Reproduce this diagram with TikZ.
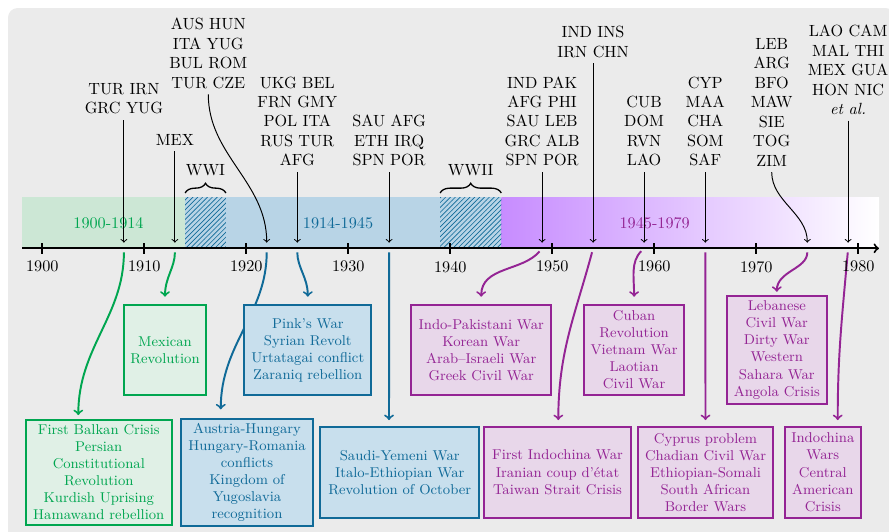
\documentclass[tikz,border=0pt]{standalone}
\usetikzlibrary{decorations.pathreplacing,patterns}
\pgfdeclarelayer{back}
\pgfdeclarelayer{mid}
\pgfsetlayers{back,mid,main}

\definecolor{bggray}{RGB}{235,235,235}
\definecolor{evgreen}{RGB}{0,166,80}
\definecolor{evblue}{RGB}{16,106,152}
\definecolor{evpurple}{RGB}{148,36,148}
\definecolor{bandgreen}{RGB}{204,231,213}
\definecolor{bandblue}{RGB}{184,212,230}
\definecolor{bandpurple}{RGB}{199,140,255}
\definecolor{fillgreen}{RGB}{224,240,230}
\definecolor{fillblue}{RGB}{200,223,237}
\definecolor{fillpurple}{RGB}{232,215,234}

\tikzset{
  toplabel/.style={align=center, inner sep=0pt, anchor=south},
  periodlabel/.style={inner sep=0pt},
  evbox/.style={draw, line width=1.2pt, align=center, inner sep=1.5pt,
    font=\fontsize{8.8}{10.5}\selectfont},
  gbox/.style={evbox, draw=evgreen, fill=fillgreen, text=evgreen},
  bbox/.style={evbox, draw=evblue, fill=fillblue, text=evblue},
  pbox/.style={evbox, draw=evpurple, fill=fillpurple, text=evpurple},
  evarrow/.style={-to, semithick, shorten <=3.5pt, shorten >=3.5pt},
  colarrow/.style={-to, line width=1.2pt, shorten <=2.5pt},
  garrow/.style={colarrow, evgreen},
  barrow/.style={colarrow, evblue},
  parrow/.style={colarrow, evpurple},
  warbrace/.style={decorate, decoration={brace, amplitude=6pt}, line width=0.8pt},
}

\begin{document}
\begin{tikzpicture}[x=0.6173pt, y=-0.6173pt]
\useasboundingbox (0,0) rectangle (889,531);

% backdrop, period bands and war hatching
\begin{pgfonlayer}{back}
  \fill[bggray, rounded corners=6pt] (8,8) rectangle (895,545);
  \fill[bandgreen] (22,197.3) rectangle (185.1,248.3);
  \fill[bandblue] (185.1,197.3) rectangle (501.3,248.3);
  \shade[left color=bandpurple, right color=white] (501.3,197.3) rectangle (879,248.3);
  \fill[pattern=north east lines, pattern color=evblue] (185.1,197.3) rectangle (225.9,248.3);
  \fill[pattern=north east lines, pattern color=evblue] (440.1,197.3) rectangle (501.3,248.3);
\end{pgfonlayer}

% period names
\node[periodlabel, text=evgreen] (p1) at (108.5,223.3) {1900-1914};
\node[periodlabel, text=evblue] (p2) at (338,223.3) {1914-1945};
\node[periodlabel, text=evpurple] (p3) at (654.7,223.3) {1945-1979};

% time axis
\coordinate (axL) at (22,248.3);
\coordinate (axR) at (879,248.3);
\draw[line width=1.2pt, -to] (axL) -- (axR);
\foreach \yr in {1900,1910,...,1980}{
  \pgfmathsetmacro{\xx}{42.3+10.2*(\yr-1900)}
  \draw[line width=1.2pt] (\xx,243) -- (\xx,253.5);
  \node (t\yr) at (\xx,266.7) {\yr};
}

% event years on the axis
\coordinate (y1908) at (123.9,248.3);
\coordinate (y1913) at (174.9,248.3);
\coordinate (y1922) at (266.7,248.3);
\coordinate (y1925) at (297.3,248.3);
\coordinate (y1934) at (389.1,248.3);
\coordinate (y1949) at (542.1,248.3);
\coordinate (y1954) at (593.1,248.3);
\coordinate (y1959) at (644.1,248.3);
\coordinate (y1965) at (705.3,248.3);
\coordinate (y1975) at (807.3,248.3);
\coordinate (y1979) at (848.1,248.3);

% world wars
\coordinate (wwiA) at (185.1,193);
\coordinate (wwiB) at (225.9,193);
\coordinate (wwiiA) at (440.1,193);
\coordinate (wwiiB) at (501.3,193);
\draw[warbrace] (wwiA) -- (wwiB);
\draw[warbrace] (wwiiA) -- (wwiiB);
\node (wwi) at (205.5,170) {WWI};
\node (wwii) at (470.7,170) {WWII};

% countries involved
\node[toplabel] (l1908) at (123.9,114.5) {TUR IRN\\GRC YUG};
\node[toplabel] (l1913) at (174.9,145.5) {MEX};
\node[toplabel] (l1922) at (208.3,88.8) {AUS HUN\\ITA YUG\\BUL ROM\\TUR CZE};
\node[toplabel] (l1925) at (297.3,166.5) {UKG BEL\\FRN GMY\\POL ITA\\RUS TUR\\AFG};
\node[toplabel] (l1934) at (389.1,166.5) {SAU AFG\\ETH IRQ\\SPN POR};
\node[toplabel] (l1949) at (542.1,166.5) {IND PAK\\AFG PHI\\SAU LEB\\GRC ALB\\SPN POR};
\node[toplabel] (l1954) at (593.1,57.8) {IND INS\\IRN CHN};
\node[toplabel] (l1959) at (644.1,166.5) {CUB\\DOM\\RVN\\LAO};
\node[toplabel] (l1965) at (705.3,166.5) {CYP\\MAA\\CHA\\SOM\\SAF};
\node[toplabel] (l1975) at (771.7,166.5) {LEB\\ARG\\BFO\\MAW\\SIE\\TOG\\ZIM};
\node[toplabel] (l1979) at (848.1,115) {LAO CAM\\MAL THI\\MEX GUA\\HON NIC\\\textit{et al.}};

\draw[evarrow] (l1908.south) -- (y1908);
\draw[evarrow] (l1913.south) -- (y1913);
\draw[evarrow] (l1922.south) to[out=-90,in=90] (y1922);
\draw[evarrow] (l1925.south) -- (y1925);
\draw[evarrow] (l1934.south) -- (y1934);
\draw[evarrow] (l1949.south) -- (y1949);
\draw[evarrow] (l1954.south) -- (y1954);
\draw[evarrow] (l1959.south) -- (y1959);
\draw[evarrow] (l1965.south) -- (y1965);
\draw[evarrow] (l1975.south) to[out=-90,in=90] (y1975);
\draw[evarrow] (l1979.south) -- (y1979);

% conflicts
\node[gbox, minimum width=50.2pt, minimum height=55.6pt] (mexrev) at (165,350) {Mexican\\Revolution};
\node[bbox, minimum width=78.4pt, minimum height=55.6pt] (pinks) at (307.8,350) {Pink's War\\Syrian Revolt\\Urtatagai conflict\\Zaraniq rebellion};
\node[pbox, minimum width=86.6pt, minimum height=55.6pt] (indopak) at (481.2,350) {Indo-Pakistani War\\Korean War\\Arab--Israeli War\\Greek Civil War};
\node[pbox, minimum width=61.7pt, minimum height=55.6pt] (cuban) at (634.1,350) {Cuban\\Revolution\\Vietnam War\\Laotian\\Civil War};
\node[pbox, minimum width=61.5pt, minimum height=66.7pt] (lebanese) at (776.8,350) {Lebanese\\Civil War\\Dirty War\\Western\\Sahara War\\Angola Crisis};
\node[gbox, minimum width=89.9pt, minimum height=64.4pt] (balkan) at (98.8,472.5) {First Balkan Crisis\\Persian\\Constitutional\\Revolution\\Kurdish Uprising\\Hamawand rebellion};
\node[bbox, minimum width=81.5pt, minimum height=66pt] (austria) at (247,472.2) {Austria-Hungary\\Hungary-Romania\\conflicts\\Kingdom of\\Yugoslavia\\recognition};
\node[bbox, minimum width=98pt, minimum height=56.2pt] (saudi) at (399.7,472.2) {Saudi-Yemeni War\\Italo-Ethiopian War\\Revolution of October};
\node[pbox, minimum width=90.4pt, minimum height=56.2pt] (indochina) at (557.5,472.2) {First Indochina War\\Iranian coup d'\'etat\\Taiwan Strait Crisis};
\node[pbox, minimum width=83.7pt, minimum height=56.2pt] (cyprus) at (705.5,472.2) {Cyprus problem\\Chadian Civil War\\Ethiopian-Somali\\South African\\Border Wars};
\node[pbox, minimum width=47.1pt, minimum height=56.2pt] (indowars) at (822.8,472.2) {Indochina\\Wars\\Central\\American\\Crisis};

% links from the axis to the conflicts, kept under the boxes
\begin{pgfonlayer}{mid}
  \draw[garrow] (y1908) to[out=-90,in=90] ([xshift=-12.65pt,yshift=2.65pt]balkan.north);
  \draw[garrow] (y1913) to[out=-90,in=90] ([yshift=4.5pt]mexrev.north);
  \draw[barrow] (y1922) to[out=-90,in=90] ([xshift=-16.2pt,yshift=5.2pt]austria.north);
  \draw[barrow] (y1925) to[out=-90,in=90] ([yshift=4.5pt]pinks.north);
  \draw[barrow] (y1934) -- ([xshift=-6.6pt,yshift=3.5pt]saudi.north);
  \draw[parrow] (y1949) to[out=-130,in=90] ([yshift=4.5pt]indopak.north);
  \draw[parrow] (y1954) to[out=-105,in=90] ([xshift=0.5pt,yshift=3.5pt]indochina.north);
  \draw[parrow] (y1959) to[out=-135,in=90] ([yshift=4.5pt]cuban.north);
  \draw[parrow] (y1965) -- ([yshift=3.5pt]cyprus.north);
  \draw[parrow] (y1975) to[out=-90,in=90] ([yshift=2pt]lebanese.north);
  \draw[parrow] (y1979) to[out=-95,in=90] ([xshift=9.2pt,yshift=3.5pt]indowars.north);
\end{pgfonlayer}
\end{tikzpicture}
\end{document}
